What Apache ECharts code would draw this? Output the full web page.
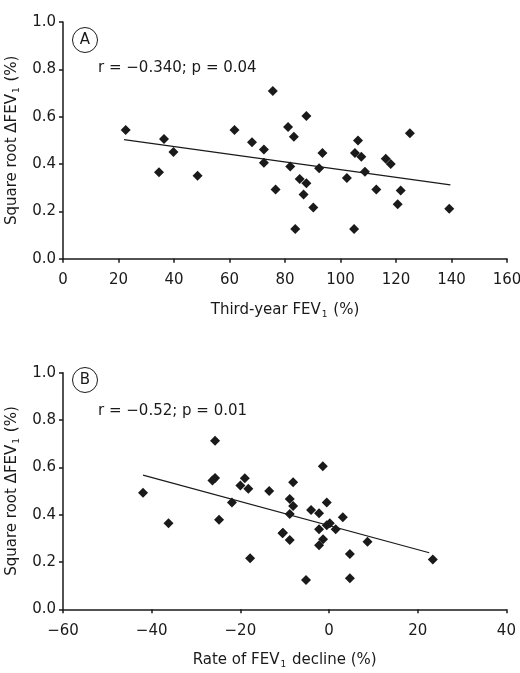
<!DOCTYPE html>
<html><head><meta charset="utf-8">
<script src="https://cdn.jsdelivr.net/npm/echarts@6/dist/echarts.min.js"></script>
<style>html,body{margin:0;padding:0;background:#fff}#c{width:520px;height:673px}</style>
</head><body><div id="c"></div>
<script>
// Panel A: Third-year FEV1 (%) vs square root dFEV1
const thirdYearFEV1 = [22.6,36.4,34.6,39.8,48.5,61.8,68.1,72.4,72.4,75.6,76.6,81.1,83.2,87.7,81.9,85.3,87.7,86.7,83.7,90.2,92.3,93.5,102.3,104.9,105.2,106.3,107.5,108.8,112.9,116.3,118.1,120.6,121.7,125.0,139.2];
const sqrtDeltaA    = [0.544,0.506,0.365,0.451,0.350,0.544,0.492,0.461,0.405,0.709,0.292,0.556,0.515,0.603,0.389,0.337,0.319,0.271,0.126,0.216,0.382,0.447,0.341,0.126,0.447,0.499,0.431,0.367,0.292,0.422,0.400,0.230,0.288,0.530,0.211];
const fitA_x = [22.0, 139.6];
const fitA_y = [0.503, 0.312];
// Panel B: Rate of FEV1 decline (%) vs square root dFEV1
const declineRate = [-41.95,-36.2,-25.7,-26.3,-25.7,-24.8,-21.9,-19.0,-20.0,-18.2,-17.8,-13.5,-10.4,-1.4,-8.1,-8.86,-8.1,-8.86,-10.5,-8.86,-4.05,-2.25,-0.51,3.1,-2.25,0.17,-0.51,1.5,-1.35,-2.25,-5.2,4.7,4.7,8.67,23.4];
const sqrtDeltaB  = [0.493,0.364,0.712,0.544,0.555,0.379,0.451,0.554,0.523,0.509,0.216,0.500,0.324,0.605,0.537,0.466,0.437,0.403,0.321,0.293,0.420,0.406,0.451,0.389,0.338,0.364,0.355,0.338,0.296,0.271,0.124,0.234,0.131,0.285,0.210];
const fitB_x = [-41.95, 22.6];
const fitB_y = [0.567, 0.239];

const zip = (a, b) => a.map((v, i) => [v, b[i]]);
const FONT = '"DejaVu Sans", sans-serif';
const INK = '#1a1a1a';
const FS = 15;
const minus = v => String(v).replace('-', '\u2212');
const rich = {
  n: {fontSize: FS, fontFamily: FONT, color: INK},
  s: {fontSize: 9, fontFamily: FONT, color: INK, padding: [9, 1, 0, 1]}
};
function xAxisCfg(gi, min, max, name1, name2) {
  return {
    gridIndex: gi, type: 'value', min: min, max: max, interval: 20,
    axisLine: {onZero: false, lineStyle: {color: INK, width: 1.5}},
    axisTick: {inside: false, length: 4, lineStyle: {color: INK, width: 1.5}},
    splitLine: {show: false},
    axisLabel: {fontSize: FS, fontFamily: FONT, color: INK, margin: 14, formatter: minus},
    name: '{n|' + name1 + '}{s|1}{n|' + name2 + '}',
    nameLocation: 'middle', nameGap: 42,
    nameTextStyle: {rich: rich}
  };
}
function yAxisCfg(gi) {
  return {
    gridIndex: gi, type: 'value', min: 0, max: 1.0, interval: 0.2,
    axisLine: {show: true, onZero: false, lineStyle: {color: INK, width: 1.5}},
    axisTick: {show: true, length: 4, lineStyle: {color: INK, width: 1.5}},
    splitLine: {show: false},
    axisLabel: {fontSize: FS, fontFamily: FONT, color: INK, margin: 7,
      formatter: v => v.toFixed(1)},
    name: '{n|Square root \u0394FEV}{s|1}{n| (%)}',
    nameLocation: 'middle', nameGap: 34, nameRotate: 90,
    nameTextStyle: {rich: rich}
  };
}
const chart = echarts.init(document.getElementById('c'), null, {renderer: 'canvas'});
chart.setOption({
  animation: false,
  grid: [
    {left: 63, top: 22, width: 444, height: 236.7, containLabel: false, outerBoundsMode: 'none'},
    {left: 63, top: 372.7, width: 443.4, height: 236.6, containLabel: false, outerBoundsMode: 'none'}
  ],
  xAxis: [xAxisCfg(0, 0, 160, 'Third-year FEV', ' (%)'), xAxisCfg(1, -60, 40, 'Rate of FEV', ' decline (%)')],
  yAxis: [yAxisCfg(0), yAxisCfg(1)],
  series: [
    {type: 'scatter', xAxisIndex: 0, yAxisIndex: 0, symbol: 'diamond', symbolSize: 10,
     itemStyle: {color: INK, opacity: 1}, data: zip(thirdYearFEV1, sqrtDeltaA), z: 3},
    {type: 'line', xAxisIndex: 0, yAxisIndex: 0, symbol: 'none',
     lineStyle: {color: INK, width: 1.2}, data: zip(fitA_x, fitA_y), z: 2},
    {type: 'scatter', xAxisIndex: 1, yAxisIndex: 1, symbol: 'diamond', symbolSize: 10,
     itemStyle: {color: INK, opacity: 1}, data: zip(declineRate, sqrtDeltaB), z: 3},
    {type: 'line', xAxisIndex: 1, yAxisIndex: 1, symbol: 'none',
     lineStyle: {color: INK, width: 1.2}, data: zip(fitB_x, fitB_y), z: 2}
  ],
  graphic: [
    {type: 'circle', shape: {cx: 85, cy: 40, r: 12.5}, style: {fill: 'none', stroke: INK, lineWidth: 1}},
    {type: 'text', x: 85, y: 40, style: {text: 'A', fontSize: FS, fontFamily: FONT, fill: INK, align: 'center', verticalAlign: 'middle'}},
    {type: 'text', x: 98, y: 68, style: {text: 'r = \u22120.340; p = 0.04', fontSize: FS, fontFamily: FONT, fill: INK, verticalAlign: 'middle'}},
    {type: 'circle', shape: {cx: 85, cy: 380, r: 12.5}, style: {fill: 'none', stroke: INK, lineWidth: 1}},
    {type: 'text', x: 85, y: 380, style: {text: 'B', fontSize: FS, fontFamily: FONT, fill: INK, align: 'center', verticalAlign: 'middle'}},
    {type: 'text', x: 98, y: 411.5, style: {text: 'r = \u22120.52; p = 0.01', fontSize: FS, fontFamily: FONT, fill: INK, verticalAlign: 'middle'}}
  ]
});
</script></body></html>
